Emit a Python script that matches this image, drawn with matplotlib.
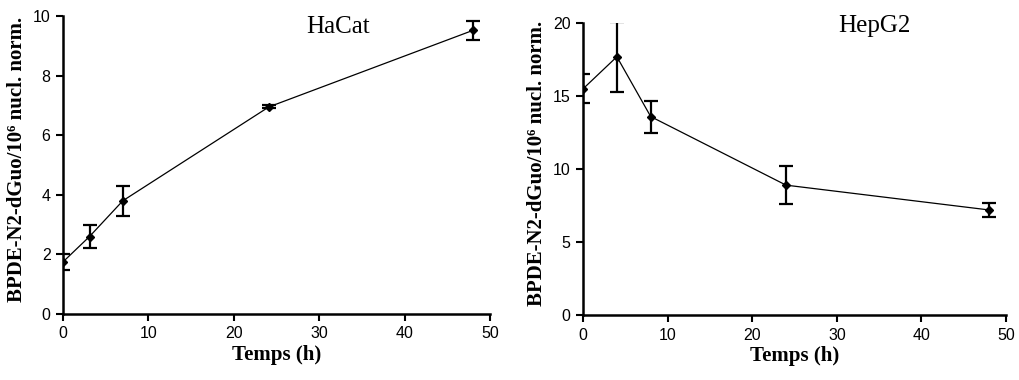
import numpy as np
import matplotlib
matplotlib.use("Agg")
import matplotlib.pyplot as plt

# --- data ---
hacat_t = [0, 3.1, 7, 24.1, 48]
hacat_y = [1.75, 2.6, 3.8, 6.95, 9.52]
hacat_err = [0.28, 0.4, 0.5, 0.05, 0.33]

hepg2_t = [0, 4, 8, 24, 48]
hepg2_y = [15.5, 17.7, 13.6, 8.9, 7.2]
hepg2_err = [1.0, 2.4, 1.1, 1.3, 0.5]

ylabel = "BPDE-N2-dGuo/10\u2076 nucl. norm."
xlabel = "Temps (h)"

serif = ["Liberation Serif", "DejaVu Serif"]
sans = ["Liberation Sans", "DejaVu Sans"]

fig = plt.figure(figsize=(10.2, 3.8), dpi=100)
ax1 = fig.add_axes([0.0618, 0.1737, 0.4186, 0.784])
ax2 = fig.add_axes([0.5716, 0.171, 0.4147, 0.768])


def style(ax, t, y, err, ymax, ystep, name, name_x, name_y, lab_x):
    ax.errorbar(t, y, yerr=err, color="black", lw=0.9, marker="D", ms=4,
                elinewidth=1.6, capsize=5, capthick=1.6)
    ax.set_xlim(0, 50)
    ax.set_ylim(0, ymax)
    ax.set_xticks(np.arange(0, 51, 10))
    ax.set_yticks(np.arange(0, ymax + 0.1, ystep))
    for s in ["top", "right"]:
        ax.spines[s].set_visible(False)
    for s in ["left", "bottom"]:
        ax.spines[s].set_linewidth(1.8)
    ax.tick_params(direction="out", length=5, width=1.5, labelsize=11.5, pad=4)
    for lab in ax.get_xticklabels() + ax.get_yticklabels():
        lab.set_family(sans)
    ax.set_ylabel(ylabel, fontsize=15, fontweight="bold", family=serif)
    ax.yaxis.set_label_coords(lab_x, 0.52)
    ax.set_xlabel(xlabel, fontsize=15, fontweight="bold", family=serif)
    ax.xaxis.set_label_coords(0.5, -0.105)
    ax.text(name_x, name_y, name, transform=ax.transAxes, fontsize=18,
            family=serif, ha="center", va="center")


style(ax1, hacat_t, hacat_y, hacat_err, 10, 2, "HaCat", 0.645, 0.965, -0.084)
style(ax2, hepg2_t, hepg2_y, hepg2_err, 20, 5, "HepG2", 0.69, 0.99, -0.085)

fig.savefig("out.png", dpi=100)
